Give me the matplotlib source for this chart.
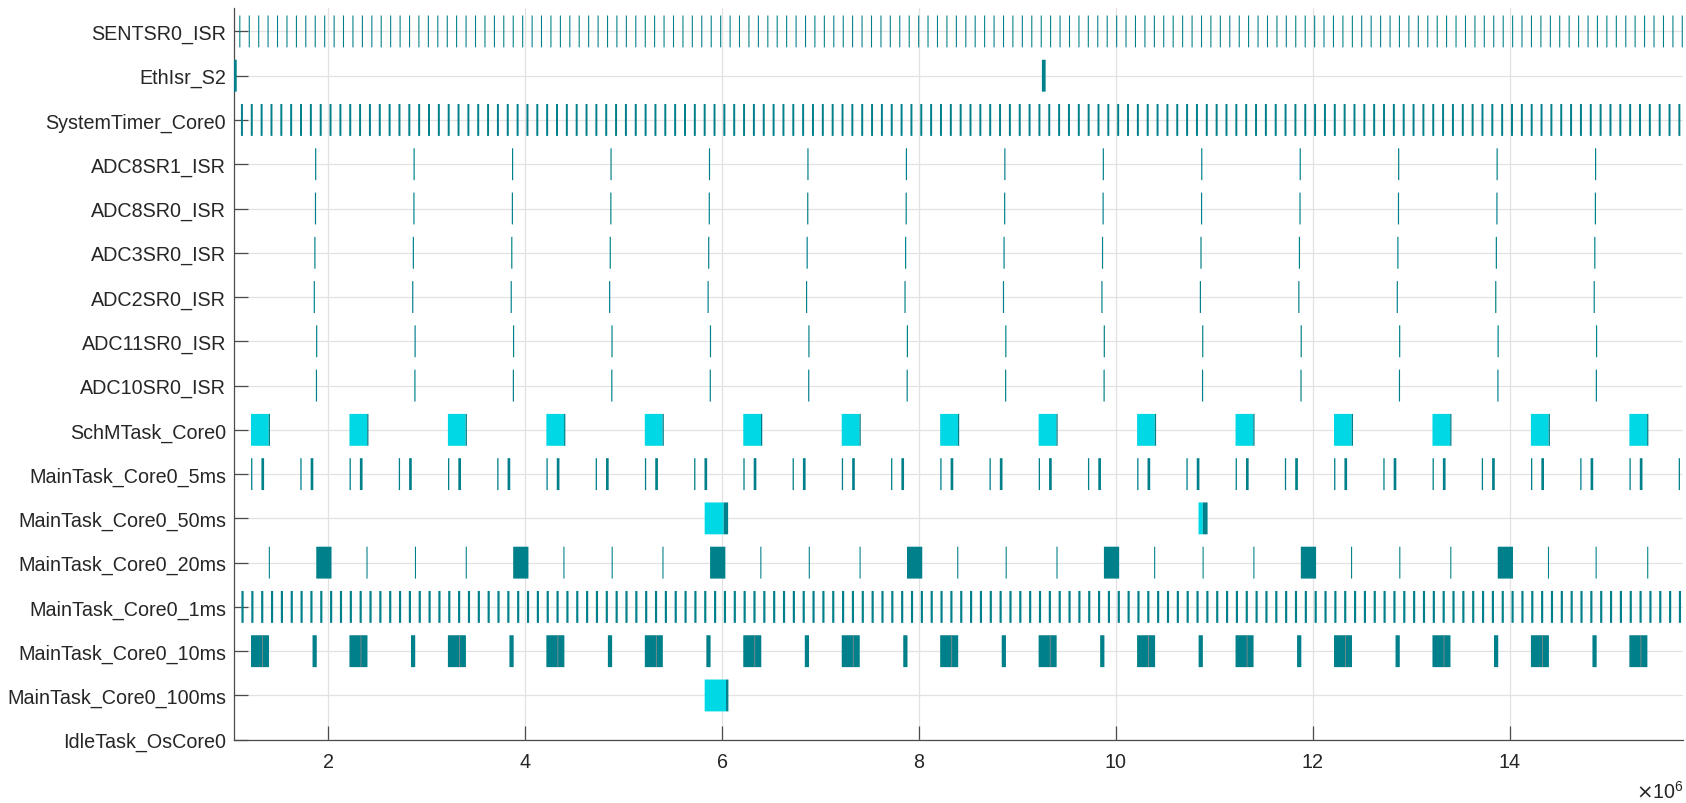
import numpy as np
import matplotlib.pyplot as plt
from matplotlib.ticker import MultipleLocator

# trace timeline, times in units of 1e6
SCALE = 1e6

task_names = ["SENTSR0_ISR", "EthIsr_S2", "SystemTimer_Core0", "ADC8SR1_ISR",
              "ADC8SR0_ISR", "ADC3SR0_ISR", "ADC2SR0_ISR", "ADC11SR0_ISR",
              "ADC10SR0_ISR", "SchMTask_Core0", "MainTask_Core0_5ms",
              "MainTask_Core0_50ms", "MainTask_Core0_20ms", "MainTask_Core0_1ms",
              "MainTask_Core0_10ms", "MainTask_Core0_100ms", "IdleTask_OsCore0"]

sentsr0_isr = [
    1.096, 1.192, 1.288, 1.383, 1.479, 1.575, 1.671, 1.766, 1.862, 1.958,
    2.054, 2.149, 2.245, 2.341, 2.437, 2.532, 2.628, 2.724, 2.820, 2.915,
    3.011, 3.107, 3.203, 3.298, 3.394, 3.490, 3.586, 3.682, 3.777, 3.873,
    3.969, 4.065, 4.160, 4.256, 4.352, 4.448, 4.543, 4.639, 4.735, 4.831,
    4.926, 5.022, 5.118, 5.214, 5.309, 5.405, 5.501, 5.597, 5.692, 5.788,
    5.884, 5.980, 6.076, 6.171, 6.267, 6.363, 6.459, 6.554, 6.650, 6.746,
    6.842, 6.937, 7.033, 7.129, 7.225, 7.320, 7.416, 7.512, 7.608, 7.703,
    7.799, 7.895, 7.991, 8.086, 8.182, 8.278, 8.374, 8.470, 8.565, 8.661,
    8.757, 8.853, 8.948, 9.044, 9.140, 9.236, 9.331, 9.427, 9.523, 9.619,
    9.714, 9.810, 9.906, 10.002, 10.097, 10.193, 10.289, 10.385, 10.480, 10.576,
    10.672, 10.768, 10.864, 10.959, 11.055, 11.151, 11.247, 11.342, 11.438, 11.534,
    11.630, 11.725, 11.821, 11.917, 12.013, 12.108, 12.204, 12.300, 12.396, 12.491,
    12.587, 12.683, 12.779, 12.874, 12.970, 13.066, 13.162, 13.258, 13.353, 13.449,
    13.545, 13.641, 13.736, 13.832, 13.928, 14.024, 14.119, 14.215, 14.311, 14.407,
    14.502, 14.598, 14.694, 14.790, 14.885, 14.981, 15.077, 15.173, 15.268, 15.364,
    15.460, 15.556, 15.652, 15.747]

ethisr_s2 = [1.030, 9.248]
ethisr_s2_len = [0.040, 0.038]

system_timer = [
    1.113, 1.213, 1.313, 1.413, 1.513, 1.613, 1.713, 1.813, 1.913, 2.013,
    2.113, 2.213, 2.313, 2.413, 2.513, 2.613, 2.713, 2.813, 2.913, 3.013,
    3.113, 3.213, 3.313, 3.413, 3.513, 3.613, 3.713, 3.813, 3.913, 4.013,
    4.113, 4.213, 4.313, 4.413, 4.513, 4.613, 4.713, 4.813, 4.913, 5.013,
    5.113, 5.213, 5.313, 5.413, 5.513, 5.613, 5.713, 5.813, 5.913, 6.013,
    6.113, 6.213, 6.313, 6.413, 6.513, 6.613, 6.713, 6.813, 6.913, 7.013,
    7.113, 7.213, 7.313, 7.413, 7.513, 7.613, 7.713, 7.813, 7.913, 8.013,
    8.113, 8.213, 8.313, 8.413, 8.513, 8.613, 8.713, 8.813, 8.913, 9.013,
    9.113, 9.213, 9.313, 9.413, 9.513, 9.613, 9.713, 9.813, 9.913, 10.013,
    10.113, 10.213, 10.313, 10.413, 10.513, 10.613, 10.713, 10.813, 10.913, 11.013,
    11.113, 11.213, 11.313, 11.413, 11.513, 11.613, 11.713, 11.813, 11.913, 12.013,
    12.113, 12.213, 12.313, 12.413, 12.513, 12.613, 12.713, 12.813, 12.913, 13.013,
    13.113, 13.213, 13.313, 13.413, 13.513, 13.613, 13.713, 13.813, 13.913, 14.013,
    14.113, 14.213, 14.313, 14.413, 14.513, 14.613, 14.713, 14.813, 14.913, 15.013,
    15.113, 15.213, 15.313, 15.413, 15.513, 15.613, 15.713]

adc8sr1 = [1.866, 2.866, 3.866, 4.866, 5.866, 6.866, 7.866, 8.866, 9.866,
           10.866, 11.866, 12.866, 13.866, 14.866]
adc8sr0 = [1.864, 2.864, 3.864, 4.864, 5.864, 6.864, 7.864, 8.864, 9.864,
           10.864, 11.864, 12.864, 13.864, 14.864]
adc3sr0 = [1.858, 2.858, 3.858, 4.858, 5.858, 6.858, 7.858, 8.858, 9.858,
           10.858, 11.858, 12.858, 13.858, 14.858]
adc2sr0 = [1.852, 2.852, 3.852, 4.852, 5.852, 6.852, 7.852, 8.852, 9.852,
           10.852, 11.852, 12.852, 13.852, 14.852]
adc11sr0 = [1.876, 2.876, 3.876, 4.876, 5.876, 6.876, 7.876, 8.876, 9.876,
            10.876, 11.876, 12.876, 13.876, 14.876]
adc10sr0 = [1.874, 2.874, 3.874, 4.874, 5.874, 6.874, 7.874, 8.874, 9.874,
            10.874, 11.874, 12.874, 13.874, 14.874]

# SchMTask: cyan run then short dark tail
schm_run = [1.215, 2.215, 3.215, 4.215, 5.215, 6.215, 7.215, 8.215, 9.215,
            10.215, 11.215, 12.215, 13.215, 14.215, 15.215]
schm_tail = [1.395, 2.395, 3.395, 4.395, 5.395, 6.395, 7.395, 8.395, 9.395,
             10.395, 11.395, 12.395, 13.395, 14.395, 15.395]

ms5_short = [1.216, 1.716, 2.216, 2.716, 3.216, 3.716, 4.216, 4.716, 5.216, 5.716,
             6.216, 6.716, 7.216, 7.716, 8.216, 8.716, 9.216, 9.716, 10.216, 10.716,
             11.216, 11.716, 12.216, 12.716, 13.216, 13.716, 14.216, 14.716, 15.216,
             15.716]
ms5_long = [1.321, 1.821, 2.321, 2.821, 3.321, 3.821, 4.321, 4.821, 5.321, 5.821,
            6.321, 6.821, 7.321, 7.821, 8.321, 8.821, 9.321, 9.821, 10.321, 10.821,
            11.321, 11.821, 12.321, 12.821, 13.321, 13.821, 14.321, 14.821, 15.321]

ms50_run = [5.823, 10.839]
ms50_run_len = [0.193, 0.044]
ms50_tail = [6.016, 10.883]
ms50_tail_len = [0.045, 0.048]

ms20_box = [1.878, 3.878, 5.878, 7.878, 9.878, 11.878, 13.878]
ms20_tick = [1.396, 2.388, 2.880, 3.396, 4.388, 4.878, 5.394, 6.388, 6.880, 7.396,
             8.388, 8.880, 9.396, 10.388, 10.880, 11.396, 12.388, 12.878, 13.396,
             14.388, 14.872, 15.396]

ms1 = [
    1.118, 1.218, 1.318, 1.418, 1.518, 1.618, 1.718, 1.818, 1.918, 2.018,
    2.118, 2.218, 2.318, 2.418, 2.518, 2.618, 2.718, 2.818, 2.918, 3.018,
    3.118, 3.218, 3.318, 3.418, 3.518, 3.618, 3.718, 3.818, 3.918, 4.018,
    4.118, 4.218, 4.318, 4.418, 4.518, 4.618, 4.718, 4.818, 4.918, 5.018,
    5.118, 5.218, 5.318, 5.418, 5.518, 5.618, 5.718, 5.818, 5.918, 6.018,
    6.118, 6.218, 6.318, 6.418, 6.518, 6.618, 6.718, 6.818, 6.918, 7.018,
    7.118, 7.218, 7.318, 7.418, 7.518, 7.618, 7.718, 7.818, 7.918, 8.018,
    8.118, 8.218, 8.318, 8.418, 8.518, 8.618, 8.718, 8.818, 8.918, 9.018,
    9.118, 9.218, 9.318, 9.418, 9.518, 9.618, 9.718, 9.818, 9.918, 10.018,
    10.118, 10.218, 10.318, 10.418, 10.518, 10.618, 10.718, 10.818, 10.918, 11.018,
    11.118, 11.218, 11.318, 11.418, 11.518, 11.618, 11.718, 11.818, 11.918, 12.018,
    12.118, 12.218, 12.318, 12.418, 12.518, 12.618, 12.718, 12.818, 12.918, 13.018,
    13.118, 13.218, 13.318, 13.418, 13.518, 13.618, 13.718, 13.818, 13.918, 14.018,
    14.118, 14.218, 14.318, 14.418, 14.518, 14.618, 14.718, 14.818, 14.918, 15.018,
    15.118, 15.218, 15.318, 15.418, 15.518, 15.618, 15.718]

ms10_big = [1.215, 2.215, 3.215, 4.215, 5.215, 6.215, 7.215, 8.215, 9.215,
            10.215, 11.215, 12.215, 13.215, 14.215, 15.215]
ms10_split = [1.328, 2.328, 3.328, 4.328, 5.328, 6.328, 7.328, 8.328, 9.328,
              10.328, 11.328, 12.328, 13.328, 14.328, 15.328]
ms10_small = [1.840, 2.840, 3.840, 4.840, 5.840, 6.840, 7.840, 8.840, 9.840,
              10.840, 11.840, 12.840, 13.840, 14.840]

ms100_run = [5.823]
ms100_run_len = [0.217]
ms100_tail = [6.040]
ms100_tail_len = [0.024]

CYAN = "#00d8e5"
TEAL = "#00808a"
TXT = "#262626"
H = 0.72
FS = 14.2

plt.rcParams['font.family'] = ['Liberation Sans', 'DejaVu Sans']

fig = plt.figure(figsize=(16.86, 8.04), dpi=100)
ax = fig.add_axes([0.139, 0.0787, 0.859, 0.9107])


def bars(row, starts, width, color):
    w = np.broadcast_to(np.asarray(width, dtype=float), (len(starts),))
    segs = [(s * SCALE, d * SCALE) for s, d in zip(starts, w)]
    ax.broken_barh(segs, (row - H / 2, H), facecolors=color,
                   edgecolors='none', zorder=3, snap=False, antialiased=True)


row = {n: i for i, n in enumerate(task_names)}

bars(row["SENTSR0_ISR"], sentsr0_isr, 0.011, TEAL)
bars(row["EthIsr_S2"], ethisr_s2, ethisr_s2_len, TEAL)
bars(row["SystemTimer_Core0"], system_timer, 0.020, TEAL)
bars(row["ADC8SR1_ISR"], adc8sr1, 0.012, TEAL)
bars(row["ADC8SR0_ISR"], adc8sr0, 0.012, TEAL)
bars(row["ADC3SR0_ISR"], adc3sr0, 0.012, TEAL)
bars(row["ADC2SR0_ISR"], adc2sr0, 0.012, TEAL)
bars(row["ADC11SR0_ISR"], adc11sr0, 0.012, TEAL)
bars(row["ADC10SR0_ISR"], adc10sr0, 0.012, TEAL)
bars(row["SchMTask_Core0"], schm_run, 0.180, CYAN)
bars(row["SchMTask_Core0"], schm_tail, 0.013, TEAL)
bars(row["MainTask_Core0_5ms"], ms5_short, 0.013, TEAL)
bars(row["MainTask_Core0_5ms"], ms5_long, 0.027, TEAL)
bars(row["MainTask_Core0_50ms"], ms50_run, ms50_run_len, CYAN)
bars(row["MainTask_Core0_50ms"], ms50_tail, ms50_tail_len, TEAL)
bars(row["MainTask_Core0_20ms"], ms20_box, 0.155, TEAL)
bars(row["MainTask_Core0_20ms"], ms20_tick, 0.011, TEAL)
bars(row["MainTask_Core0_1ms"], ms1, 0.022, TEAL)
bars(row["MainTask_Core0_10ms"], ms10_big, 0.183, TEAL)
bars(row["MainTask_Core0_10ms"], ms10_split, 0.008, "#8c8c8c")
bars(row["MainTask_Core0_10ms"], ms10_small, 0.043, TEAL)
bars(row["MainTask_Core0_100ms"], ms100_run, ms100_run_len, CYAN)
bars(row["MainTask_Core0_100ms"], ms100_tail, ms100_tail_len, TEAL)

ax.set_xlim(1.046 * SCALE, 15.756 * SCALE)
ax.set_ylim(len(task_names) - 1, -0.54)
ax.set_yticks(range(len(task_names)))
ax.set_yticklabels(task_names)
ax.xaxis.set_major_locator(MultipleLocator(2 * SCALE))
ax.xaxis.set_major_formatter(lambda v, pos: f"{v / SCALE:g}")

ax.grid(True, color='#e2e2e2', lw=0.9)
ax.set_axisbelow(True)
for s in ['top', 'right']:
    ax.spines[s].set_visible(False)
for s in ['left', 'bottom']:
    ax.spines[s].set_color('#4a4a4a')
    ax.spines[s].set_linewidth(0.9)

ax.tick_params(axis='both', direction='in', length=10, width=0.9,
               color='#4a4a4a', labelsize=FS, labelcolor=TXT)
ax.tick_params(axis='y', pad=6)
ax.tick_params(axis='x', pad=9)

fig.text(0.999, 0.002, r'$\times\mathregular{10^{6}}$', ha='right', va='bottom',
         fontsize=FS, color=TXT)

fig.savefig("out.png", dpi=100)
